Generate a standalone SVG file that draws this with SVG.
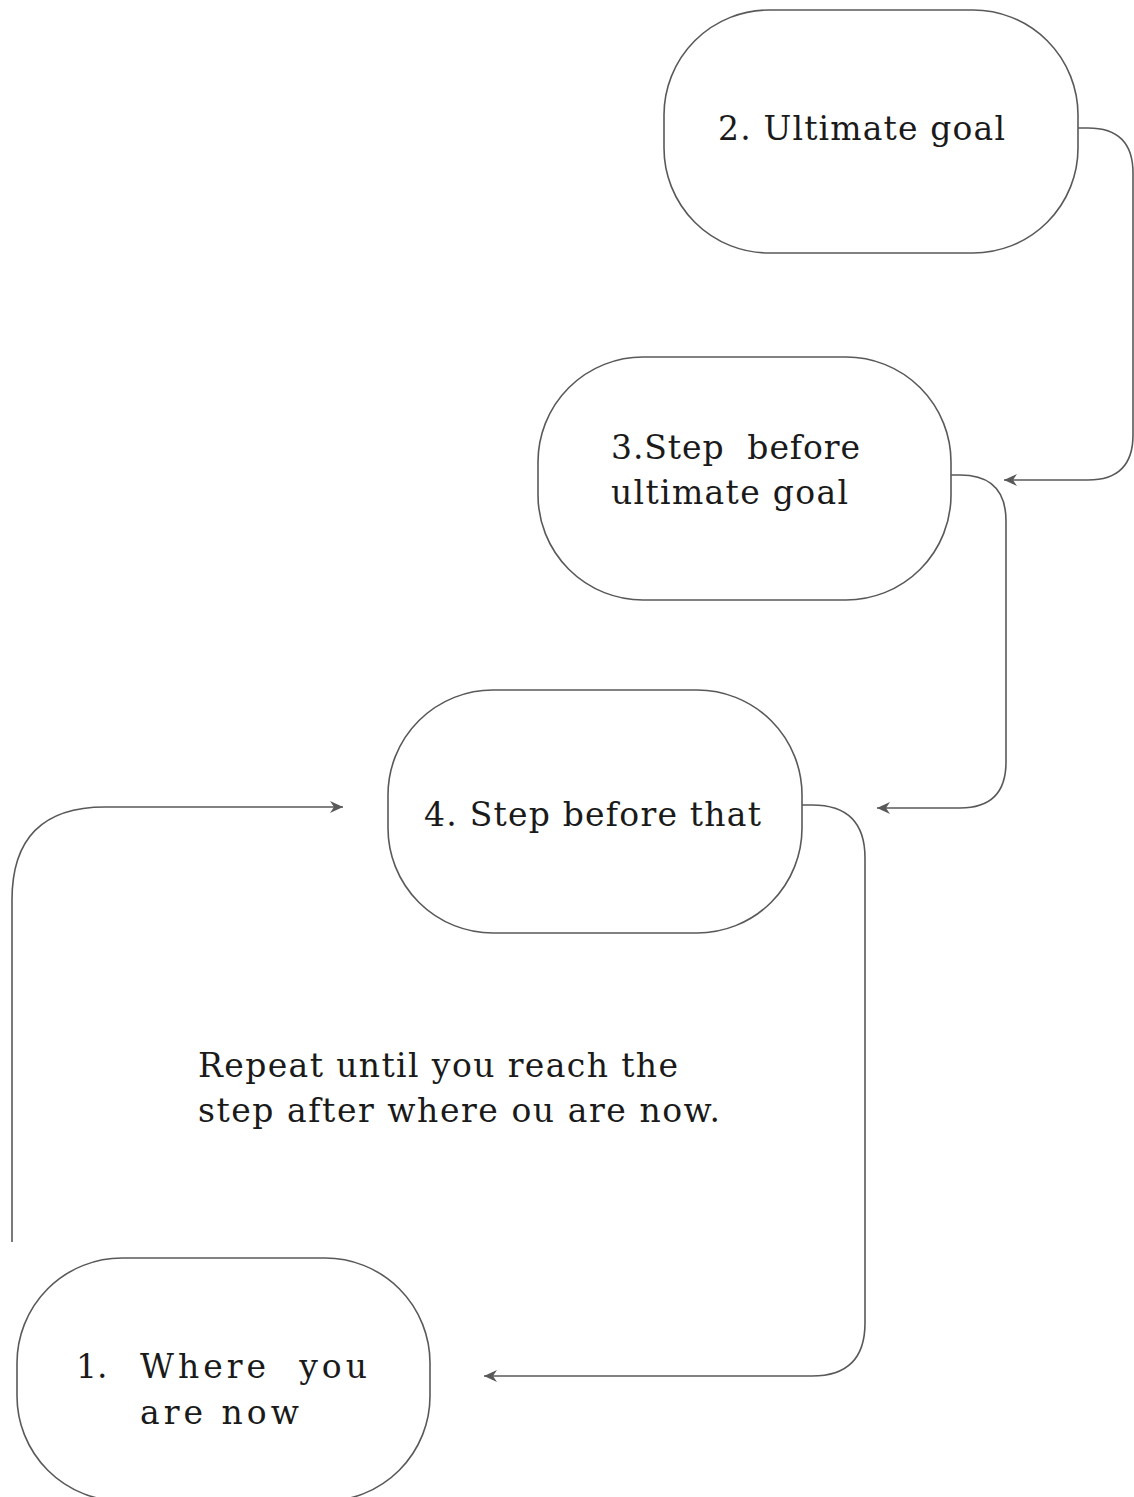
<svg xmlns="http://www.w3.org/2000/svg" width="1134" height="1497" viewBox="0 0 1134 1497">
<style>
.node{fill:#fff;stroke:#595959;stroke-width:1.6}
.edge{fill:none;stroke:#595959;stroke-width:1.6}
.t{font-family:"DejaVu Serif","Liberation Serif",serif;font-size:33px;fill:#1a1a1a}
</style>
<defs>
<marker id="ah" viewBox="0 0 14 14" refX="13" refY="7" markerWidth="14" markerHeight="14" markerUnits="userSpaceOnUse" orient="auto">
<path d="M0,1 L13,7 L0,13 L4,7 Z" fill="#595959"/>
</marker>
</defs>
<rect width="1134" height="1497" fill="#fff"/>
<g id="connectors">
<path class="edge" d="M1078,128 L1088,128 Q1133,128 1133,173 L1133,435 Q1133,480 1088,480 L1004,480" marker-end="url(#ah)"/>
<path class="edge" d="M951,475 L960,475 Q1006,475 1006,521 L1006,762 Q1006,808 960,808 L877,808" marker-end="url(#ah)"/>
<path class="edge" d="M802,805 L812,805 Q865,805 865,858 L865,1323 Q865,1376 812,1376 L484,1376" marker-end="url(#ah)"/>
<path class="edge" d="M12,1242 L12,900 Q12,807 105,807 L343,807" marker-end="url(#ah)"/>
</g>
<g id="node2">
<rect class="node" x="664" y="10" width="414" height="243" rx="105" ry="105"/>
<text class="t" x="718" y="140" textLength="287" lengthAdjust="spacing">2. Ultimate goal</text>
</g>
<g id="node3">
<rect class="node" x="538" y="357" width="413" height="243" rx="105" ry="105"/>
<text class="t" xml:space="preserve"><tspan x="611" y="459" textLength="249" lengthAdjust="spacing">3.Step  before</tspan><tspan x="611" y="504" textLength="237" lengthAdjust="spacing">ultimate goal</tspan></text>
</g>
<g id="node4">
<rect class="node" x="388" y="690" width="414" height="243" rx="105" ry="105"/>
<text class="t" x="424" y="826" textLength="337" lengthAdjust="spacing">4. Step before that</text>
</g>
<g id="node1">
<rect class="node" x="17" y="1258" width="413" height="243" rx="105" ry="105"/>
<text class="t" xml:space="preserve"><tspan x="76" y="1378">1.</tspan><tspan x="140" y="1378" textLength="227" lengthAdjust="spacing">Where  you</tspan><tspan x="140" y="1424" textLength="159" lengthAdjust="spacing">are now</tspan></text>
</g>
<g id="note">
<text class="t"><tspan x="198" y="1077" textLength="480" lengthAdjust="spacing">Repeat until you reach the</tspan><tspan x="198" y="1122" textLength="522" lengthAdjust="spacing">step after where ou are now.</tspan></text>
</g>
</svg>
